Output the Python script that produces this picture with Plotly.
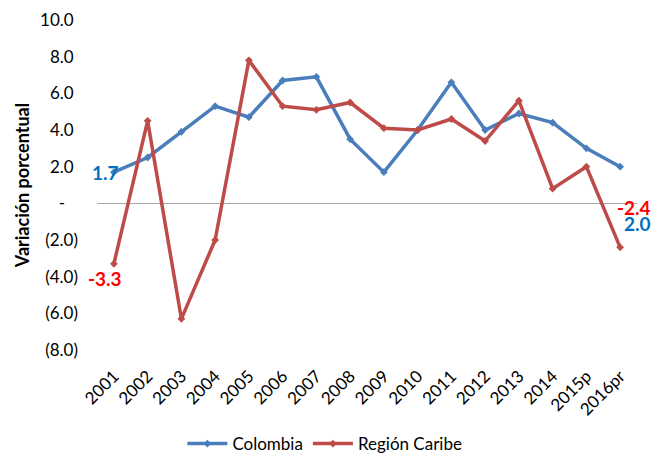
import plotly.graph_objects as go

years = ["2001", "2002", "2003", "2004", "2005", "2006", "2007", "2008",
         "2009", "2010", "2011", "2012", "2013", "2014", "2015p", "2016pr"]
colombia = [1.7, 2.5, 3.9, 5.3, 4.7, 6.7, 6.9, 3.5, 1.7, 4.0, 6.6, 4.0, 4.9, 4.4, 3.0, 2.0]
caribe = [-3.3, 4.5, -6.3, -2.0, 7.8, 5.3, 5.1, 5.5, 4.1, 4.0, 4.6, 3.4, 5.6, 0.8, 2.0, -2.4]

y_tickvals = [-8, -6, -4, -2, 0, 2, 4, 6, 8, 10]
y_ticktext = ["(8.0)", "(6.0)", "(4.0)", "(2.0)", "-\u00a0\u00a0\u00a0", "2.0\u00a0", "4.0\u00a0", "6.0\u00a0", "8.0\u00a0", "10.0\u00a0"]

BLUE = "#4A7EBB"
RED = "#BE4B48"
FONT = "Lato"

fig = go.Figure()
fig.add_trace(go.Scatter(x=years, y=colombia, name="Colombia", mode="lines+markers",
                         line=dict(color=BLUE, width=3.5),
                         marker=dict(symbol="diamond", size=6, color=BLUE)))
fig.add_trace(go.Scatter(x=years, y=caribe, name="Región Caribe", mode="lines+markers",
                         line=dict(color=RED, width=3.5),
                         marker=dict(symbol="diamond", size=6, color=RED)))

first, last = 0, len(years) - 1
lab_font = dict(family=FONT, size=19, color="#0070C0")
red_font = dict(family=FONT, size=19, color="#FF0000")
fig.add_annotation(x=first, y=colombia[first], text="<b>%.1f</b>" % colombia[first], showarrow=False,
                   font=lab_font, xshift=-8, yshift=0)
fig.add_annotation(x=first, y=caribe[first], text="<b>%.1f</b>" % caribe[first], showarrow=False,
                   font=red_font, xshift=-9, yshift=-15)
fig.add_annotation(x=last, y=caribe[last], text="<b>%.1f</b>" % caribe[last], showarrow=False,
                   font=red_font, xshift=14, yshift=40)
fig.add_annotation(x=last, y=colombia[last], text="<b>%.1f</b>" % colombia[last], showarrow=False,
                   font=lab_font, xshift=17, yshift=-57)

fig.update_layout(
    width=654, height=455,
    margin=dict(l=97, r=17, t=20, b=105, autoexpand=False),
    paper_bgcolor="white", plot_bgcolor="white",
    font=dict(family=FONT, size=17, color="#000000"),
    showlegend=True,
    legend=dict(orientation="h", x=0.422, xanchor="center", y=-0.285, yanchor="middle",
                font=dict(family=FONT, size=17), itemwidth=40),
    xaxis=dict(type="category", range=[-0.5, len(years) - 0.5], tickangle=-45,
               showgrid=False, showline=False, automargin=False,
               zeroline=False, ticks="", tickfont=dict(family=FONT, size=17),
               ticklabelstandoff=12),
    yaxis=dict(range=[-8, 10], tickvals=y_tickvals, ticktext=y_ticktext, automargin=False,
               showgrid=False, showline=False, zeroline=True, zerolinecolor="#A6A6A6",
               zerolinewidth=1.3, ticks="", ticklabelstandoff=18,
               tickfont=dict(family=FONT, size=17),
               title=dict(text="<b>Variación porcentual</b>", font=dict(family=FONT, size=18),
                          standoff=5)),
)

fig.write_html("out.html", config={"displayModeBar": False},
               post_script="document.body.style.margin='0';")
